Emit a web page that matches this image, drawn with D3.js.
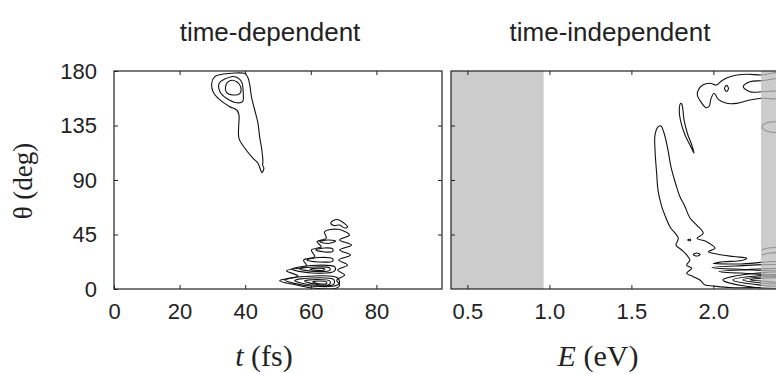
<!DOCTYPE html>
<html><head><meta charset="utf-8">
<script src="https://cdn.jsdelivr.net/npm/d3@7"></script>
<style>body{margin:0;background:#fff}</style>
</head><body><svg id="c" width="776" height="374"></svg>
<script>
// ---------- data ----------
const panelTitles = ["time-dependent", "time-independent"];
const tTicks = [0, 20, 40, 60, 80];
const eTicks = [0.5, 1.0, 1.5, 2.0];
const thetaTicks = [0, 45, 90, 135, 180];
const tDomain = [0, 100];
const eDomain = [0.4, 2.4];
const thetaDomain = [0, 180];
const grayBands = [[0.4, 0.965], [2.29, 2.5]]; // eV ranges shaded

// time-dependent contours  [t (fs), theta (deg)]
const tdPeakOuter = [[39.9,178.1],[33.3,177.5],[30.7,175.3],[29.8,169.9],[30.2,162.9],[32.3,156.1],[35.3,150.5],[37.4,147.8],[38.1,143.7],[38.0,134.0],[38.1,124.4],[39.9,116.2],[42.4,107.9],[43.9,103.8],[44.7,98.3],[45.1,96.0],[45.7,99.7],[45.3,102.4],[45.4,105.1],[45.3,109.2],[45.0,116.2],[44.4,125.8],[43.9,136.8],[42.9,147.8],[41.9,158.8],[41.4,168.5],[40.9,174.0],[40.2,177.3]];
const tdPeakMid = [[35.8,175.3],[32.1,169.9],[32.3,162.9],[34.3,157.5],[37.4,153.8],[39.2,154.7],[39.4,161.6],[38.9,171.2],[37.4,174.8]];
const tdPeakInner = [[35.3,172.0],[34.0,167.1],[34.3,162.4],[36.3,160.2],[38.4,161.6],[38.6,167.1],[37.4,171.2]];
const tdFringeOuter = [[68.3,49.3],[71.8,44.6],[68.8,40.5],[72.4,36.3],[68.8,32.2],[72.1,28.1],[68.5,23.9],[71.2,19.8],[68.2,15.7],[70.3,11.6],[67.9,7.4],[68.8,3.3],[67.9,0.8],[60.6,0.8],[55.7,3.3],[50.5,6.9],[56.1,10.7],[52.6,15.1],[58.7,19.0],[57.8,23.9],[61.2,26.7],[60.2,32.2],[63.2,34.9],[61.9,39.1],[64.7,41.9],[64.2,47.3]];
const tdFringeTop = [[66.1,54.5],[67.9,57.4],[70.6,53.3],[71.2,51.2],[70.3,50.4],[68.8,52.8],[67.0,52.4]];
const tdLobeA0 = [[62.7,39.1],[65.1,40.5],[67.6,39.6],[65.1,37.6]];
const tdLobeA = [[61.5,32.2],[64.2,33.9],[66.7,33.0],[66.7,31.0],[64.2,30.6]];
const tdLobeB = [[58.8,23.9],[62.7,26.0],[66.7,24.8],[66.7,23.1],[62.7,22.3]];
const tdLobeC1 = [[54.2,16.5],[60.3,19.4],[67.3,18.2],[67.3,14.9],[60.3,13.2]];
const tdLobeC2 = [[56.6,16.5],[61.2,18.2],[65.8,17.3],[65.8,15.3],[61.2,14.5]];
const tdLobeC3 = [[59.7,16.3],[62.1,17.1],[64.2,16.7],[64.2,15.7],[62.1,15.4]];
const tdLobeD1 = [[52.1,7.4],[58.1,10.3],[68.2,9.1],[68.6,4.1],[59.7,2.5]];
const tdLobeD2 = [[55.1,7.0],[60.3,9.1],[67.0,7.8],[67.0,4.1],[60.3,3.3]];
const tdLobeD3 = [[58.1,6.6],[61.9,7.8],[65.8,6.6],[65.8,4.1],[61.9,3.7]];
const tdLobeD4 = [[60.6,5.8],[62.7,6.6],[64.8,5.8],[64.8,4.5],[62.7,4.3]];

// time-independent contours  [E (eV), theta (deg)]
const tiTopOuter = [[2.45,178.5],[2.295,176.7],[2.203,177.3],[2.101,175.3],[2.051,172.0],[2.020,168.5],[1.979,169.9],[1.935,168.5],[1.908,164.3],[1.902,160.2],[1.923,154.7],[1.955,149.7],[1.975,151.1],[1.984,156.6],[2.004,161.6],[2.030,156.6],[2.081,153.3],[2.142,153.3],[2.223,156.1],[2.295,157.5],[2.45,158.5]];
const tiTopDot = [[2.080,168.1],[2.092,165.6],[2.080,163.1],[2.068,165.6]];
const tiTopInner = [[2.182,167.1],[2.223,171.2],[2.295,172.0],[2.45,173.5],[2.45,166.0],[2.295,162.9],[2.223,162.9]];
const tiThin = [[1.801,153.3],[1.792,147.8],[1.801,138.2],[1.827,127.2],[1.857,118.9],[1.882,112.1],[1.868,118.9],[1.841,128.6],[1.821,139.6],[1.813,149.2],[1.807,152.8]];
const tiBanana = [[1.664,134.0],[1.680,134.6],[1.699,128.8],[1.723,114.8],[1.741,101.0],[1.772,85.9],[1.796,76.2],[1.827,68.0],[1.857,58.6],[1.898,52.8],[1.938,46.0],[1.900,41.9],[1.959,39.1],[2.010,33.6],[1.969,30.8],[2.020,28.9],[2.121,26.8],[2.203,25.4],[2.173,23.5],[2.060,22.5],[1.999,21.1],[2.162,20.6],[2.45,20.2],[2.45,1.5],[2.284,1.2],[2.101,1.2],[1.999,2.5],[1.949,3.3],[1.918,7.4],[1.877,10.2],[1.837,13.0],[1.868,17.1],[1.837,19.8],[1.857,23.9],[1.837,28.1],[1.807,32.2],[1.772,36.3],[1.786,41.9],[1.735,51.4],[1.699,62.8],[1.685,68.0],[1.662,81.8],[1.654,95.5],[1.644,114.8],[1.644,127.2]];
const tiSmallLoop = [[1.877,28.5],[1.898,29.7],[1.919,28.5],[1.898,27.3]];
const tiDash = [[1.844,40.5],[1.853,41.1],[1.862,40.5],[1.853,39.9]];
const tiLensR1 = [[1.991,17.8],[2.132,19.0],[2.45,19.0],[2.45,16.3],[2.132,16.5]];
const tiLensR2 = [[2.034,14.5],[2.162,15.7],[2.45,15.7],[2.45,13.0],[2.162,13.2]];
const tiLensR3a = [[2.058,7.4],[2.193,12.0],[2.45,12.0],[2.45,2.0],[2.193,2.5]];
const tiLensR3b = [[2.119,7.4],[2.223,10.3],[2.45,10.3],[2.45,3.5],[2.235,4.1]];
const tiLensR3c = [[2.180,7.4],[2.254,9.5],[2.45,9.3],[2.45,5.0],[2.266,5.4]];
const tiLensR3d = [[2.223,7.6],[2.284,8.7],[2.45,8.5],[2.45,6.0],[2.296,6.6]];
const tiGrayHook = [[2.45,138.0],[2.321,137.1],[2.296,133.8],[2.333,130.1],[2.45,129.5]];
const tiGrayWave1 = [[2.296,32.2],[2.333,33.9],[2.45,34.2]];
const tiGrayWave2 = [[2.296,28.1],[2.345,29.7],[2.45,30.0]];

const tdClosed = [tdPeakOuter, tdPeakMid, tdPeakInner, tdFringeOuter, tdFringeTop, tdLobeA0, tdLobeA, tdLobeB, tdLobeC1, tdLobeC2, tdLobeC3, tdLobeD1, tdLobeD2, tdLobeD3, tdLobeD4];
const tiClosed = [tiTopOuter, tiTopDot, tiTopInner, tiThin, tiBanana, tiSmallLoop, tiDash, tiLensR1, tiLensR2, tiLensR3a, tiLensR3b, tiLensR3c, tiLensR3d];
const tiOpen = [tiGrayHook, tiGrayWave1, tiGrayWave2];

// ---------- drawing ----------
const svg = d3.select("#c");
const yTop = 71, yBot = 289;
const leftPanel = {x0: 114, x1: 442};
const rightPanel = {x0: 451, x1: 779};
const sansFont = "'Liberation Sans', Arial, sans-serif";
const serifFont = "'Liberation Serif', 'Times New Roman', serif";

const y = d3.scaleLinear().domain(thetaDomain).range([yBot, yTop]);
const xT = d3.scaleLinear().domain(tDomain).range([leftPanel.x0, leftPanel.x1]);
const xE = d3.scaleLinear().domain(eDomain).range([rightPanel.x0, rightPanel.x1]);

const defs = svg.append("defs");
function clip(id, p) {
  defs.append("clipPath").attr("id", id).append("rect")
    .attr("x", p.x0).attr("y", yTop).attr("width", p.x1 - p.x0).attr("height", yBot - yTop);
}
clip("clipL", leftPanel); clip("clipR", rightPanel);

function drawContours(g, x, closedList, openList) {
  const lc = d3.line().x(d => x(d[0])).y(d => y(d[1])).curve(d3.curveCatmullRomClosed.alpha(0.5));
  const lo = d3.line().x(d => x(d[0])).y(d => y(d[1])).curve(d3.curveCatmullRom.alpha(0.5));
  g.selectAll("path.c").data(closedList).join("path").attr("class", "c")
    .attr("d", lc).attr("fill", "none").attr("stroke", "#111").attr("stroke-width", 1.1);
  g.selectAll("path.o").data(openList || []).join("path").attr("class", "o")
    .attr("d", lo).attr("fill", "none").attr("stroke", "#111").attr("stroke-width", 1.1);
}

const gL = svg.append("g").attr("clip-path", "url(#clipL)");
drawContours(gL, xT, tdClosed, []);

const gR = svg.append("g").attr("clip-path", "url(#clipR)");
drawContours(gR, xE, tiClosed, tiOpen);
gR.selectAll("rect.band").data(grayBands).join("rect").attr("class", "band")
  .attr("x", d => xE(d[0])).attr("width", d => xE(d[1]) - xE(d[0]))
  .attr("y", yTop).attr("height", yBot - yTop)
  .attr("fill", "#bbbbbb").attr("fill-opacity", 0.75);

function styleAxis(g) {
  g.select(".domain").remove();
  g.selectAll(".tick line").attr("stroke", "#222").attr("stroke-width", 1);
  g.selectAll("text").attr("font-family", sansFont).attr("font-size", 22).attr("fill", "#222");
}
svg.append("g").attr("transform", `translate(0,${yBot})`)
  .call(d3.axisBottom(xT).tickValues(tTicks).tickSize(-4).tickPadding(14).tickFormat(d3.format("d"))).call(styleAxis);
svg.append("g").attr("transform", `translate(0,${yTop})`)
  .call(d3.axisTop(xT).tickValues(tTicks.slice(1)).tickSize(-4).tickFormat("")).call(styleAxis);
svg.append("g").attr("transform", `translate(${leftPanel.x0},0)`)
  .call(d3.axisLeft(y).tickValues(thetaTicks).tickSize(-4).tickPadding(17)).call(styleAxis);
svg.append("g").attr("transform", `translate(${leftPanel.x1},0)`)
  .call(d3.axisRight(y).tickValues(thetaTicks.slice(1, -1)).tickSize(-4).tickFormat("")).call(styleAxis);
svg.append("g").attr("transform", `translate(0,${yBot})`)
  .call(d3.axisBottom(xE).tickValues(eTicks).tickSize(-4).tickPadding(14).tickFormat(d3.format(".1f"))).call(styleAxis);
svg.append("g").attr("transform", `translate(0,${yTop})`)
  .call(d3.axisTop(xE).tickValues(eTicks).tickSize(-4).tickFormat("")).call(styleAxis);
svg.append("g").attr("transform", `translate(${rightPanel.x0},0)`)
  .call(d3.axisLeft(y).tickValues(thetaTicks.slice(1, -1)).tickSize(-4).tickFormat("")).call(styleAxis);

[leftPanel, rightPanel].forEach(p => {
  svg.append("rect").attr("x", p.x0).attr("y", yTop).attr("width", p.x1 - p.x0).attr("height", yBot - yTop)
    .attr("fill", "none").attr("stroke", "#222").attr("stroke-width", 1.2);
});

svg.selectAll("text.title").data(panelTitles).join("text").attr("class", "title")
  .attr("x", (d, i) => i === 0 ? 270 : 610).attr("y", 41)
  .attr("text-anchor", "middle").attr("font-family", sansFont).attr("font-size", 26).attr("fill", "#222")
  .text(d => d);

const xl1 = svg.append("text").attr("x", 264).attr("y", 366).attr("text-anchor", "middle")
  .attr("font-family", serifFont).attr("font-size", 30).attr("fill", "#222");
xl1.append("tspan").attr("font-style", "italic").text("t");
xl1.append("tspan").text(" (fs)");
const xl2 = svg.append("text").attr("x", 598).attr("y", 366).attr("text-anchor", "middle")
  .attr("font-family", serifFont).attr("font-size", 30).attr("fill", "#222");
xl2.append("tspan").attr("font-style", "italic").text("E");
xl2.append("tspan").text(" (eV)");
svg.append("text").attr("transform", "translate(32,181) rotate(-90)").attr("text-anchor", "middle")
  .attr("font-family", serifFont).attr("font-size", 27).attr("fill", "#222").text("θ (deg)");
</script>
</body></html>
